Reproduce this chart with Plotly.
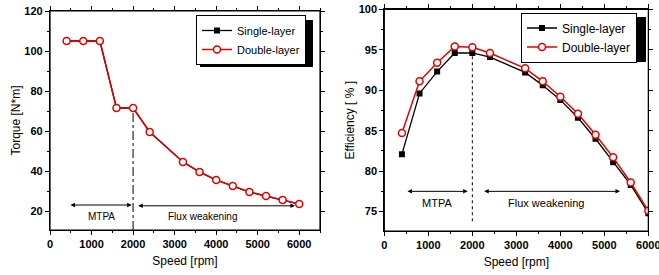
import plotly.graph_objects as go

speed = [400, 800, 1200, 1600, 2000, 2400, 3200, 3600, 4000, 4400, 4800, 5200, 5600, 6000]
torque_single = [105, 105, 105, 71.5, 71.5, 59.5, 44.5, 39.5, 35.5, 32.5, 29.5, 27.5, 25.5, 23.5]
torque_double = [105, 105, 105, 71.5, 71.5, 59.5, 44.5, 39.5, 35.5, 32.5, 29.5, 27.5, 25.5, 23.5]
eff_single = [82.1, 89.6, 92.3, 94.6, 94.6, 94.1, 92.2, 90.6, 88.8, 86.6, 84.0, 81.1, 78.3, 74.8]
eff_double = [84.7, 91.1, 93.4, 95.4, 95.3, 94.6, 92.7, 91.1, 89.2, 87.1, 84.5, 81.7, 78.6, 75.1]
boundary_speed = 2000
region_labels = ["MTPA", "Flux weakening"]

FONT = "Arial, Liberation Sans, sans-serif"
fig = go.Figure()

def add_series(xa, ya, ys, yd, leg):
    fig.add_trace(go.Scatter(x=speed, y=ys, name="Single-layer", mode="lines+markers",
                             line=dict(color="black", width=1.3),
                             marker=dict(symbol="square", size=6, color="black"),
                             xaxis=xa, yaxis=ya, legend=leg))
    fig.add_trace(go.Scatter(x=speed, y=yd, name="Double-layer", mode="lines+markers",
                             line=dict(color="#e00000", width=1.5),
                             marker=dict(symbol="circle", size=7, color="white",
                                         line=dict(color="#e00000", width=1.5)),
                             xaxis=xa, yaxis=ya, legend=leg))

add_series("x", "y", torque_single, torque_double, "legend")
add_series("x2", "y2", eff_single, eff_double, "legend2")

L_X = [0.0759, 0.4856]
R_X = [0.5832, 0.9838]
L_Y = [0.1636, 0.96]
R_Y = [0.16, 0.9662]
L_XR = [0, 6500]
L_YR = [10.5, 120]
R_XR = [0, 6000]
R_YR = [72.6, 100]

tickfont = dict(family=FONT, size=11, color="black", weight=700)
titlefont = dict(family=FONT, size=12, color="black")

def base_axis(dom, rng, dtick, minor, anchor, title=None, standoff=None):
    d = dict(domain=dom, range=rng, dtick=dtick, tick0=0, anchor=anchor,
             showgrid=False, zeroline=False, showline=True, mirror="allticks",
             linecolor="black", linewidth=1.2,
             ticks="outside", ticklen=4, tickwidth=1.2, tickcolor="black",
             tickfont=tickfont, automargin=False, ticklabeloverflow="allow",
             minor=dict(dtick=minor, tick0=0, ticks="outside", ticklen=2, tickwidth=1, tickcolor="black"))
    if title:
        d["title"] = dict(text=title, font=titlefont, standoff=standoff)
    return d

fig.update_layout(
    width=659, height=275,
    margin=dict(l=0, r=0, t=0, b=0, autoexpand=False),
    paper_bgcolor="white", plot_bgcolor="white",
    font=dict(family=FONT, color="black"),
    xaxis=base_axis(L_X, L_XR, 1000, 500, "y", "Speed [rpm]", 7),
    yaxis=base_axis(L_Y, L_YR, 20, 10, "x", "Torque [N*m]", 1),
    xaxis2=base_axis(R_X, R_XR, 1000, 500, "y2", "Speed [rpm]", 7),
    yaxis2=base_axis(R_Y, R_YR, 5, 2.5, "x2", "Efficiency [ % ]", 1),
    legend=dict(x=196 / 659, y=1 - 40 / 275, xanchor="left", yanchor="middle", bgcolor="white",
                bordercolor="black", borderwidth=1, font=dict(family=FONT, size=11, color="black"),
                tracegroupgap=0, itemwidth=30),
    legend2=dict(x=521 / 659, y=1 - 37.5 / 275, xanchor="left", yanchor="middle", bgcolor="white",
                 bordercolor="black", borderwidth=1, font=dict(family=FONT, size=12, color="black"),
                 tracegroupgap=0, itemwidth=30),
)

# plot frames (top / right border)
for xr, yr in [("x domain", "y domain"), ("x2 domain", "y2 domain")]:
    fig.add_shape(type="rect", xref=xr, yref=yr, x0=0, x1=1, y0=0, y1=1,
                  line=dict(color="black", width=1.2), fillcolor="rgba(0,0,0,0)", layer="above")

# region boundary lines
fig.add_shape(type="line", xref="x", yref="y", x0=boundary_speed, x1=boundary_speed, y0=L_YR[0], y1=69,
              line=dict(color="black", width=1, dash="dashdot"))
fig.add_shape(type="line", xref="x2", yref="y2", x0=boundary_speed, x1=boundary_speed, y0=73.8, y1=94.3,
              line=dict(color="black", width=1, dash="dot"))

def arrow(xr, yr, x0, x1, y):
    fig.add_annotation(xref=xr, yref=yr, axref=xr, ayref=yr, x=x1, y=y, ax=x0, ay=y, text="",
                       showarrow=True, arrowhead=2, arrowside="end+start", arrowsize=0.9,
                       arrowwidth=1, arrowcolor="black")

arrow("x", "y", 457, 1966, 23)
arrow("x", "y", 2086, 5896, 22.6)
fig.add_annotation(xref="x", yref="y", x=1230, y=17.2, text=region_labels[0], showarrow=False,
                   font=dict(family=FONT, size=10, color="black"))
fig.add_annotation(xref="x", yref="y", x=3680, y=17.2, text=region_labels[1], showarrow=False,
                   font=dict(family=FONT, size=10, color="black"))
arrow("x2", "y2", 493, 1895, 77.5)
arrow("x2", "y2", 2236, 5357, 77.5)
fig.add_annotation(xref="x2", yref="y2", x=1190, y=76.0, text=region_labels[0], showarrow=False,
                   font=dict(family=FONT, size=11, color="black"))
fig.add_annotation(xref="x2", yref="y2", x=3668, y=76.0, text=region_labels[1], showarrow=False,
                   font=dict(family=FONT, size=11, color="black"))

# legend drop shadows (paper pixels)
W, H = 659, 275
def shadow(x0, y0, x1, y1):
    fig.add_shape(type="rect", xref="paper", yref="paper", x0=x0 / W, x1=x1 / W,
                  y0=1 - y1 / H, y1=1 - y0 / H, fillcolor="black", line=dict(width=0), layer="above")

shadow(200, 20, 313, 67)
shadow(525, 17, 646, 62)

fig.write_html("out.html", config={"displayModeBar": False},
               post_script="document.body.style.margin='0';")
